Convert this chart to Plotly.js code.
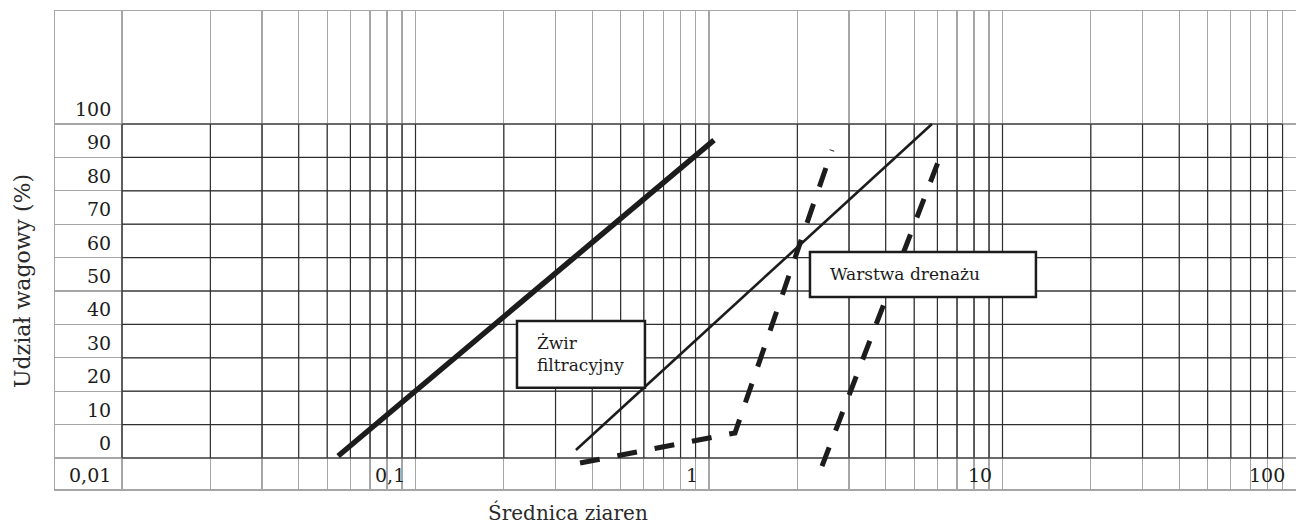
<!DOCTYPE html>
<html>
<head>
<meta charset="utf-8">
<script src="https://cdn.plot.ly/plotly-3.0.1.min.js"></script>
<style>
  html, body { margin: 0; padding: 0; background: #ffffff; }
  #chart { width: 1296px; height: 526px; }
</style>
</head>
<body>
<div id="chart"></div>
<script>
// ---- grid / axis values ----
const gridX = [0.01, 0.02, 0.03, 0.04, 0.05, 0.06, 0.07, 0.08, 0.09,
               0.1, 0.2, 0.3, 0.4, 0.5, 0.6, 0.7, 0.8, 0.9,
               1, 2, 3, 4, 5, 6, 7, 8, 9,
               10, 20, 30, 40, 50, 60, 70, 80, 90, 100];
const gridY = [0, 10, 20, 30, 40, 50, 60, 70, 80, 90, 100];
const xTickVals = [0.01, 0.1, 1, 10, 100];
const xTickText = ['0,01', '0,1', '1', '10', '100'];
const yTickText = ['0', '10', '20', '30', '40', '50', '60', '70', '80', '90', '100'];

// ---- series (grain diameter, mass share %) ----
const thickSolidX = [0.0545, 1.04];
const thickSolidY = [0.6, 95.2];
const thinSolidX = [0.352, 5.75];
const thinSolidY = [2.4, 100];
const filterGravelX = [0.3635, 1.226, 2.625];
const filterGravelY = [-1.5, 7.5, 92.2];
const drainLayerX = [2.427, 4.01, 6.27];
const drainLayerY = [-2.4, 47.9, 92.5];

// ---- labels ----
const boxLabels = ['Żwir<br>filtracyjny', 'Warstwa drenażu'];
const xTitle = 'Średnica ziaren';
const yTitle = 'Udział wagowy (%)';

const FONT = '"DejaVu Serif"';
const INK = '#1c1c1c';
const DARK = '#2e2e2e';
const LIGHT = '#a6a6a6';

const traces = [
  { x: thickSolidX, y: thickSolidY, mode: 'lines', name: 'A',
    line: { color: INK, width: 5.5 } },
  { x: thinSolidX, y: thinSolidY, mode: 'lines', name: 'B',
    line: { color: INK, width: 2.6 } },
  { x: filterGravelX, y: filterGravelY, mode: 'lines', name: 'Żwir filtracyjny',
    line: { color: INK, width: 5, dash: '20px,18px' } },
  { x: drainLayerX, y: drainLayerY, mode: 'lines', name: 'Warstwa drenażu',
    line: { color: INK, width: 5, dash: '20px,18px' } }
];

const shapes = [];
gridX.filter(v => v < 100).forEach(v => {
  shapes.push({ type: 'line', xref: 'x', yref: 'y', x0: v, x1: v,
    y0: gridY[0], y1: gridY[gridY.length - 1],
    line: { color: DARK, width: 1.2 }, layer: 'between' });
});
gridY.forEach(v => {
  shapes.push({ type: 'line', xref: 'x', yref: 'y', x0: gridX[0], x1: 90,
    y0: v, y1: v, line: { color: DARK, width: 1.2 }, layer: 'between' });
});
shapes.push({ type: 'rect', xref: 'x', yref: 'y', x0: 0.2217, x1: 0.605, y0: 21, y1: 41,
  fillcolor: '#ffffff', line: { color: INK, width: 2.5 }, layer: 'above' });
shapes.push({ type: 'rect', xref: 'x', yref: 'y', x0: 2.208, x1: 13.0, y0: 48.2, y1: 61.7,
  fillcolor: '#ffffff', line: { color: INK, width: 2.5 }, layer: 'above' });

const annotations = [];
gridY.forEach((v, i) => {
  annotations.push({ xref: 'x', yref: 'y', x: Math.log10(gridX[0]), y: v,
    text: yTickText[i], showarrow: false, xanchor: 'right', yanchor: 'bottom',
    xshift: -9, yshift: 2, font: { family: FONT, size: 19, color: INK } });
});
xTickVals.forEach((v, i) => {
  annotations.push({ xref: 'x', yref: 'y', x: Math.log10(v), y: 0,
    text: xTickText[i], showarrow: false, xanchor: 'right', yanchor: 'top',
    xshift: -9, yshift: -4, font: { family: FONT, size: 19, color: INK } });
});
annotations.push({ xref: 'x', yref: 'y', x: Math.log10(0.2217), y: 31,
  text: boxLabels[0], showarrow: false, xanchor: 'left', yanchor: 'middle', align: 'left',
  xshift: 18, font: { family: FONT, size: 17, color: INK } });
annotations.push({ xref: 'x', yref: 'y', x: Math.log10(2.208), y: 55,
  text: boxLabels[1], showarrow: false, xanchor: 'left', yanchor: 'middle', align: 'left',
  xshift: 18, font: { family: FONT, size: 17, color: INK } });
annotations.push({ xref: 'paper', yref: 'paper', x: 0.4134, y: -0.05,
  text: xTitle, showarrow: false, xanchor: 'center', yanchor: 'middle',
  font: { family: FONT, size: 20, color: '#2a2a2a' } });
annotations.push({ xref: 'paper', yref: 'paper', x: -0.0266, y: 0.435,
  text: yTitle, showarrow: false, xanchor: 'center', yanchor: 'middle', textangle: -90,
  font: { family: FONT, size: 22, color: '#2a2a2a' } });

const layout = {
  width: 1296, height: 526,
  margin: { l: 55, r: 0, t: 11, b: 37, pad: 0 },
  paper_bgcolor: '#ffffff', plot_bgcolor: '#ffffff',
  showlegend: false,
  font: { family: FONT, color: INK },
  xaxis: {
    type: 'log', range: [-2.2283, 2],
    tickmode: 'array', tickvals: gridX, showticklabels: false, ticks: '',
    showgrid: true, gridcolor: LIGHT, gridwidth: 1.2,
    showline: true, mirror: true, linecolor: LIGHT, linewidth: 1.5,
    zeroline: false, fixedrange: true
  },
  yaxis: {
    type: 'linear', range: [-9.28, 133.83],
    tickmode: 'array', tickvals: gridY, showticklabels: false, ticks: '',
    showgrid: true, gridcolor: LIGHT, gridwidth: 1.2,
    showline: true, mirror: true, linecolor: LIGHT, linewidth: 1.5,
    zeroline: false, fixedrange: true
  },
  shapes: shapes,
  annotations: annotations
};

Plotly.newPlot('chart', traces, layout, { staticPlot: true, displayModeBar: false });
</script>
</body>
</html>
